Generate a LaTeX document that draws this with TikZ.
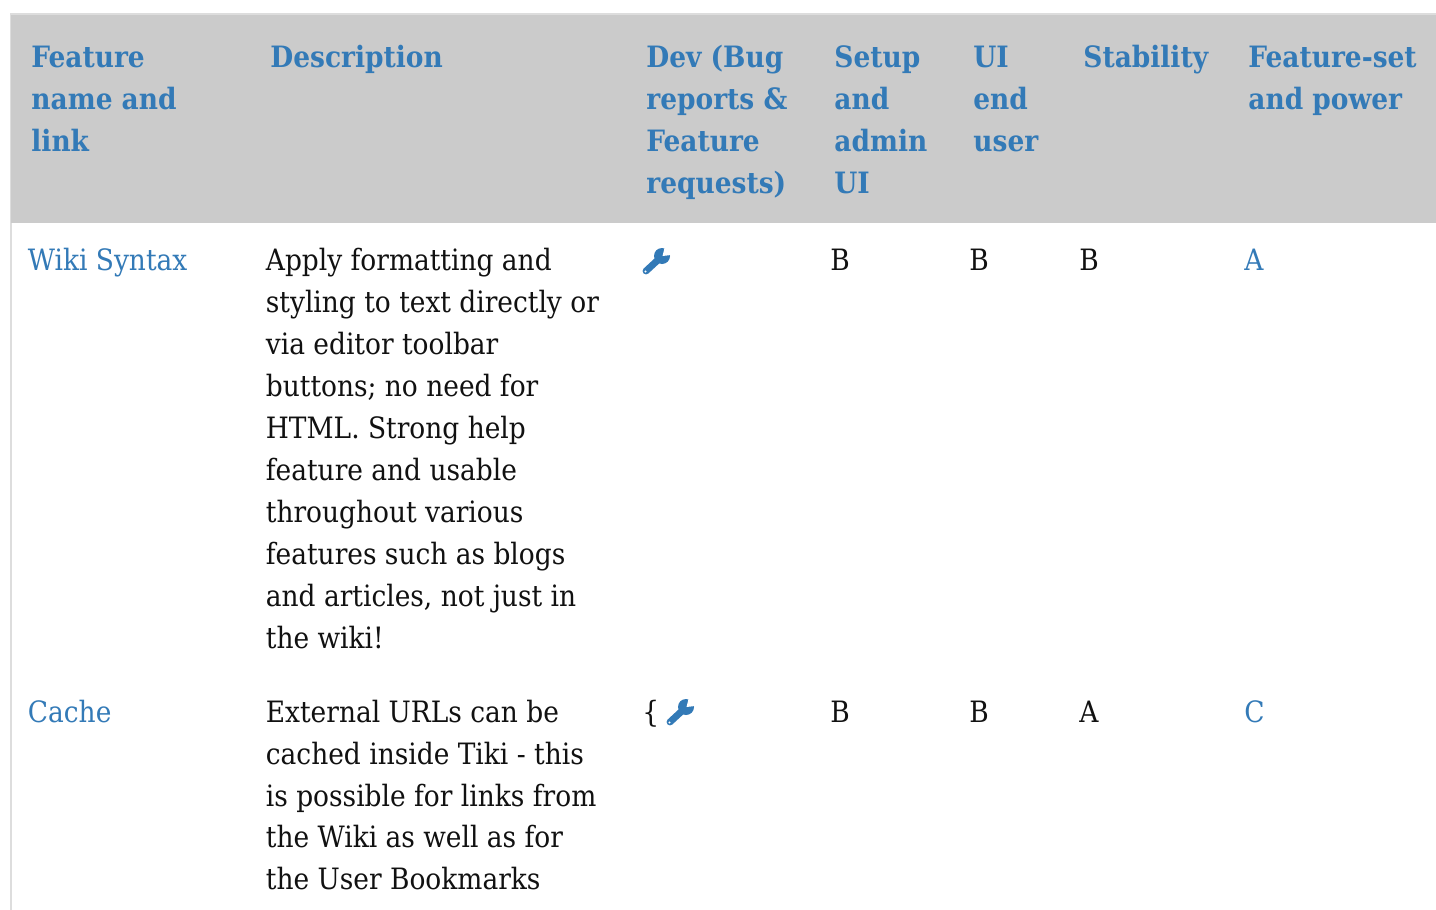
\documentclass[tikz,border=0pt]{standalone}
\usepackage{fontspec}
\setmainfont{DejaVu Serif Condensed}
\definecolor{linkc}{HTML}{337AB7}
\definecolor{headbg}{HTML}{CBCBCB}
\definecolor{edge}{HTML}{DDDDDD}
\definecolor{txt}{HTML}{111111}
\tikzset{x=0.5pt,y=-0.5pt,
 hd/.style={anchor=base west,inner sep=0pt,font=\fontsize{14.7}{21}\selectfont\bfseries,text=linkc},
 bd/.style={anchor=base west,inner sep=0pt,font=\fontsize{14.7}{21}\selectfont,text=txt},
 lk/.style={bd,text=linkc},
 wrench/.pic={
  \draw[linkc,line width=3.4pt,line cap=round] (-10,10) -- (3,-2);
  \fill[linkc] (6,-5) circle (8);
  \fill[white] (6.5,-5) -- (9,-15) -- (17,-13) -- (15,-6) -- cycle;
  \fill[white] (-10.5,10.5) circle (1.1);
 }}
\begin{document}
\begin{tikzpicture}
\useasboundingbox (0,0) rectangle (1436,910);
\fill[white] (0,0) rectangle (1436,910);
\fill[edge] (9.5,13) rectangle (1436,223);
\fill[headbg] (11,14.5) rectangle (1436,223);
\fill[edge] (10,223) rectangle (12,910);
\node[hd] (h1a) at (31,67) {Feature};
\node[hd] (h1b) at (31,109) {name and};
\node[hd] (h1c) at (31,151) {link};
\node[hd] (h2) at (270,67) {Description};
\node[hd] (h3a) at (646,67) {Dev (Bug};
\node[hd] (h3b) at (646,109) {reports \&};
\node[hd] (h3c) at (646,151) {Feature};
\node[hd] (h3d) at (646,193) {requests)};
\node[hd] (h4a) at (834,67) {Setup};
\node[hd] (h4b) at (834,109) {and};
\node[hd] (h4c) at (834,151) {admin};
\node[hd] (h4d) at (834,193) {UI};
\node[hd] (h5a) at (973,67) {UI};
\node[hd] (h5b) at (973,109) {end};
\node[hd] (h5c) at (973,151) {user};
\node[hd] (h6) at (1083,67) {Stability};
\node[hd] (h7a) at (1248,67) {Feature-set};
\node[hd] (h7b) at (1248,109) {and power};
\node[lk] (r1a) at (27.5,270) {Wiki Syntax};
\node[bd] (d1) at (265.5,270) {Apply formatting and};
\node[bd] (d2) at (265.5,312) {styling to text directly or};
\node[bd] (d3) at (265.5,354) {via editor toolbar};
\node[bd] (d4) at (265.5,396) {buttons; no need for};
\node[bd] (d5) at (265.5,438) {HTML. Strong help};
\node[bd] (d6) at (265.5,480) {feature and usable};
\node[bd] (d7) at (265.5,522) {throughout various};
\node[bd] (d8) at (265.5,564) {features such as blogs};
\node[bd] (d9) at (265.5,606) {and articles, not just in};
\node[bd] (d10) at (265.5,648) {the wiki!};
\pic at (656,261) {wrench};
\node[bd] (r1d) at (830,270) {B};
\node[bd] (r1e) at (969,270) {B};
\node[bd] (r1f) at (1079,270) {B};
\node[lk] (r1g) at (1244,270) {A};
\node[lk] (r2a) at (27.5,722) {Cache};
\node[bd] (e1) at (265.5,722) {External URLs can be};
\node[bd] (e2) at (265.5,764) {cached inside Tiki - this};
\node[bd] (e3) at (265.5,806) {is possible for links from};
\node[bd] (e4) at (265.5,847) {the Wiki as well as for};
\node[bd] (e5) at (265.5,889) {the User Bookmarks};
\node[bd] (r2c) at (642,722) {\{};
\pic at (680,712) {wrench};
\node[bd] (r2d) at (830,722) {B};
\node[bd] (r2e) at (969,722) {B};
\node[bd] (r2f) at (1079,722) {A};
\node[lk] (r2g) at (1244,722) {C};
\end{tikzpicture}
\end{document}
